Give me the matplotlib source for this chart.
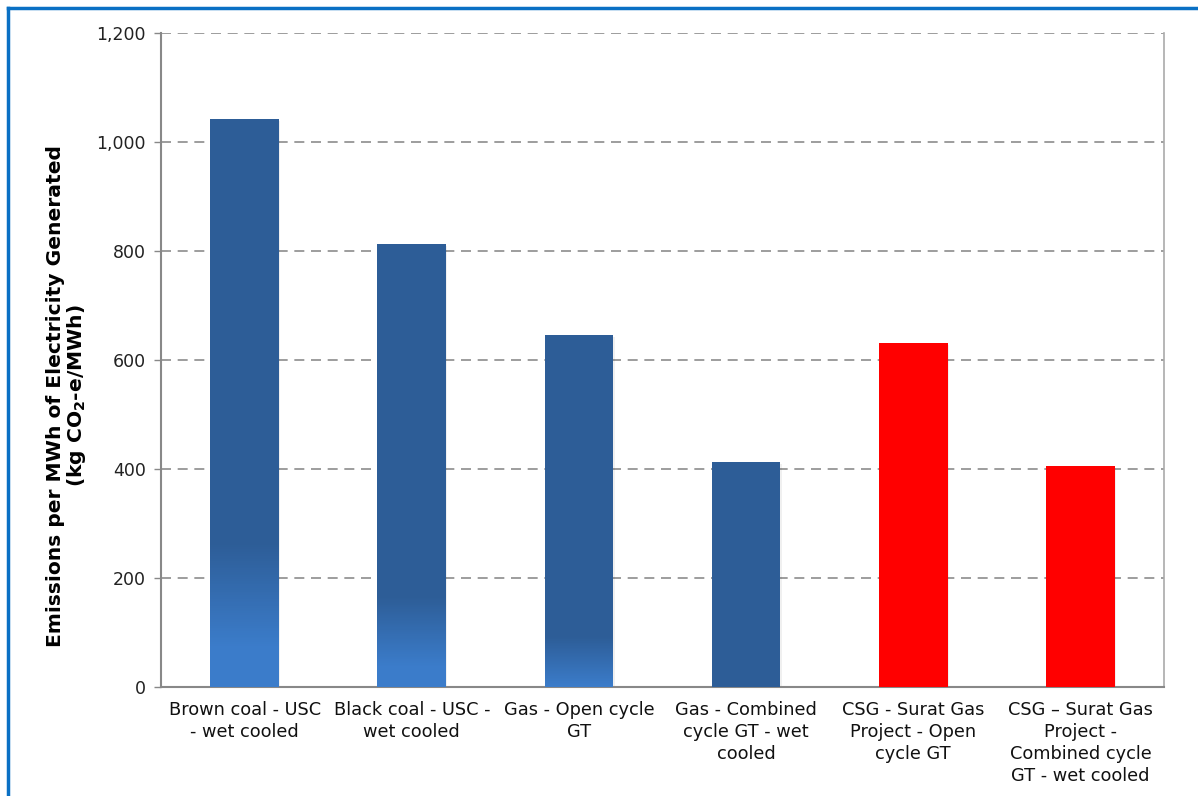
import matplotlib
matplotlib.use("Agg")
import matplotlib.pyplot as plt
import numpy as np
from matplotlib.lines import Line2D
from matplotlib.colors import LinearSegmentedColormap

categories = [
    "Brown coal - USC\n- wet cooled",
    "Black coal - USC -\nwet cooled",
    "Gas - Open cycle\nGT",
    "Gas - Combined\ncycle GT - wet\ncooled",
    "CSG - Surat Gas\nProject - Open\ncycle GT",
    "CSG \u2013 Surat Gas\nProject -\nCombined cycle\nGT - wet cooled",
]
values = [1042, 813, 646, 413, 631, 405]
is_csg = [False, False, False, False, True, True]
# gradient (light -> dark) band heights for blue bars, in data units
grad_lo = [73, 37, 0, 0, 0, 0]
grad_hi = [264, 165, 92, 0, 0, 0]

yticks = [0, 200, 400, 600, 800, 1000, 1200]

plt.rcParams['font.family'] = ['DejaVu Sans']

fig = plt.figure(figsize=(11.98, 7.96), dpi=100)
ax = fig.add_axes([161/1198, 1-687/796, (1164-161)/1198, (687-33)/796])

dark = "#2D5D97"
light = "#3B7CCA"
red = "#FF0000"
width = 0.41
x = np.arange(len(values))

cmap = LinearSegmentedColormap.from_list("g", [light, dark])
for i, v in enumerate(values):
    # soft shadow
    ax.bar(x[i]+0.008, v, width, bottom=-3, color="#000000", alpha=0.06, zorder=2, linewidth=0)
    if is_csg[i]:
        ax.bar(x[i], v, width, color=red, zorder=3, linewidth=0)
    else:
        ax.bar(x[i], v, width, color=dark, zorder=3, linewidth=0)
        if grad_hi[i] > 0:
            n = 80
            bottoms = np.linspace(0, grad_hi[i], n + 1)[:-1]
            mids = bottoms + grad_hi[i] / n / 2
            t = np.clip((mids - grad_lo[i]) / (grad_hi[i] - grad_lo[i]), 0, 1)
            ax.bar(np.full(n, x[i]), grad_hi[i] - bottoms, width, bottom=bottoms,
                   color=cmap(t), zorder=4, linewidth=0)
ax.set_xlim(-0.5, len(values)-0.5)
ax.set_ylim(0, 1200)

ax.set_yticks(yticks)
ax.set_yticklabels([f"{t:,}" for t in yticks], fontsize=12.5, color="#222222")
ax.set_xticks(x)
ax.set_xticklabels(categories, fontsize=12.8, color="#111111", linespacing=1.3)
ax.tick_params(axis="x", length=0, pad=10)
ax.tick_params(axis="y", length=5, width=1, color="#888888", pad=6)

ax.grid(axis="y", linestyle=(0, (6, 4)), color="#8C8C8C", linewidth=1.2, zorder=1)
ax.set_axisbelow(True)
for s in ["left", "bottom"]:
    ax.spines[s].set_color("#888888")
    ax.spines[s].set_linewidth(1.5)
ax.spines["right"].set_color("#AAAAAA")
ax.spines["right"].set_linewidth(1.2)
ax.spines["top"].set_visible(False)

ax.set_ylabel("Emissions per MWh of Electricity Generated\n(kg CO$_\\mathbf{2}$-e/MWh)",
              fontsize=14.6, fontweight="bold", color="black", linespacing=1.0)
ax.yaxis.set_label_coords(-0.073, 0.445)

# blue frame (top and left edges)
fig.add_artist(Line2D([7.5/1198, 1.0], [1-8/796, 1-8/796], transform=fig.transFigure,
                      color="#0A70C4", linewidth=2.5))
fig.add_artist(Line2D([7.5/1198, 7.5/1198], [0, 1-8/796], transform=fig.transFigure,
                      color="#0A70C4", linewidth=2.5))

fig.savefig("out.png", dpi=100)
